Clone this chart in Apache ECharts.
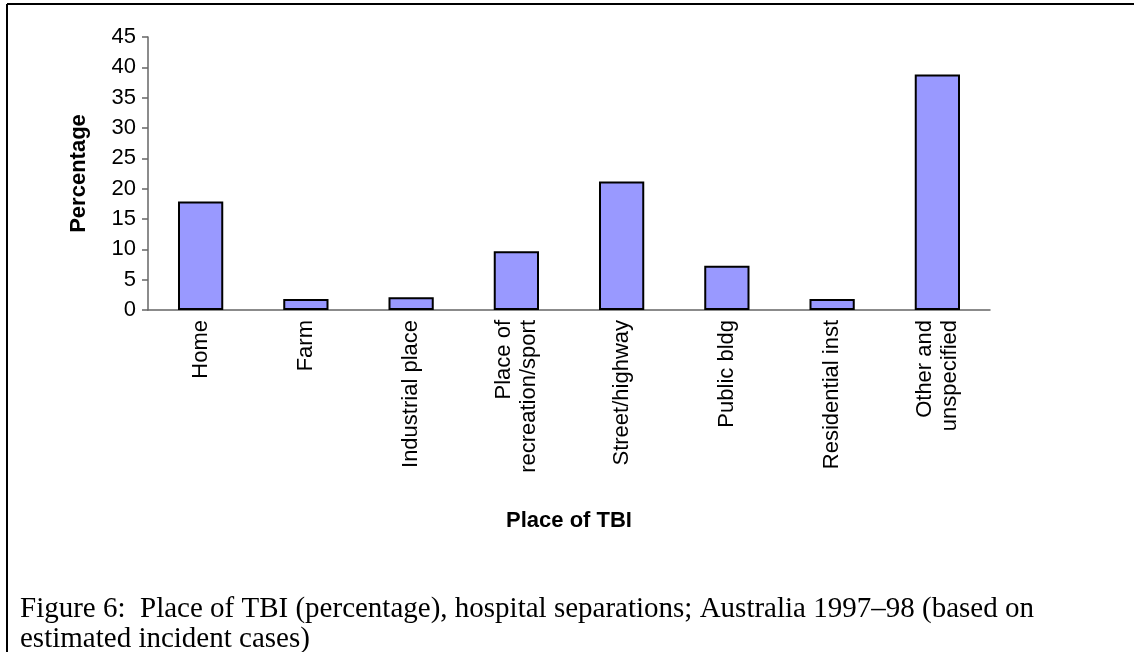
<!DOCTYPE html>
<html>
<head>
<meta charset="utf-8">
<script src="https://cdn.jsdelivr.net/npm/echarts@6/dist/echarts.min.js"></script>
<style>
  html, body { margin: 0; padding: 0; background: #fff; }
  #chart { width: 1134px; height: 652px; }
</style>
</head>
<body>
<div id="chart"></div>
<script>
const places = ['Home', 'Farm', 'Industrial place', 'Place of\nrecreation/sport', 'Street/highway',
  'Public bldg', 'Residential inst', 'Other and\nunspecified']
const percentages = [17.9, 1.8, 2.1, 9.7, 21.2, 7.3, 1.8, 38.8]

const captionLines = [
  'Figure 6:  Place of TBI (percentage), hospital separations; Australia 1997\u201398 (based on',
  'estimated incident cases)'
]

const font = 'Liberation Sans, Arial, sans-serif'
const chart = echarts.init(document.getElementById('chart'))

chart.setOption({
  animation: false,
  backgroundColor: '#fff',
  title: {
    text: captionLines.join('\n'),
    left: 20,
    top: 594,
    padding: 0,
    textStyle: {
      fontFamily: 'Liberation Serif, serif',
      fontSize: 29,
      fontWeight: 'normal',
      color: '#000',
      lineHeight: 30
    }
  },
  graphic: [
    { type: 'line', shape: { x1: 7, y1: 4, x2: 1134, y2: 4 }, style: { stroke: '#000', lineWidth: 2 } },
    { type: 'line', shape: { x1: 7, y1: 4, x2: 7, y2: 652 }, style: { stroke: '#000', lineWidth: 2 } }
  ],
  grid: { left: 148, right: 144, top: 37, bottom: 342 },
  xAxis: {
    type: 'category',
    data: places,
    name: 'Place of TBI',
    nameLocation: 'middle',
    nameGap: 200,
    nameTextStyle: { fontFamily: font, fontSize: 22, fontWeight: 'bold', color: '#000' },
    axisLine: { lineStyle: { color: '#666', width: 1.5 } },
    axisTick: { interval: 0, length: 6, lineStyle: { color: '#666', width: 1.5 } },
    axisLabel: {
      interval: 0,
      rotate: 90,
      margin: 10,
      fontFamily: font,
      fontSize: 22,
      color: '#000',
      lineHeight: 25
    }
  },
  yAxis: {
    type: 'value',
    min: 0,
    max: 45,
    interval: 5,
    name: 'Percentage',
    nameLocation: 'middle',
    nameGap: 58,
    nameTextStyle: { fontFamily: font, fontSize: 22, fontWeight: 'bold', color: '#000' },
    splitLine: { show: false },
    axisLine: { show: true, lineStyle: { color: '#666', width: 1.5 } },
    axisTick: { show: true, length: 6, lineStyle: { color: '#666', width: 1.5 } },
    axisLabel: { margin: 12, fontFamily: font, fontSize: 22, color: '#000' }
  },
  series: [{
    type: 'bar',
    data: percentages,
    barWidth: '43%',
    itemStyle: { color: '#9999ff', borderColor: '#000', borderWidth: 2 }
  }]
})
</script>
</body>
</html>
